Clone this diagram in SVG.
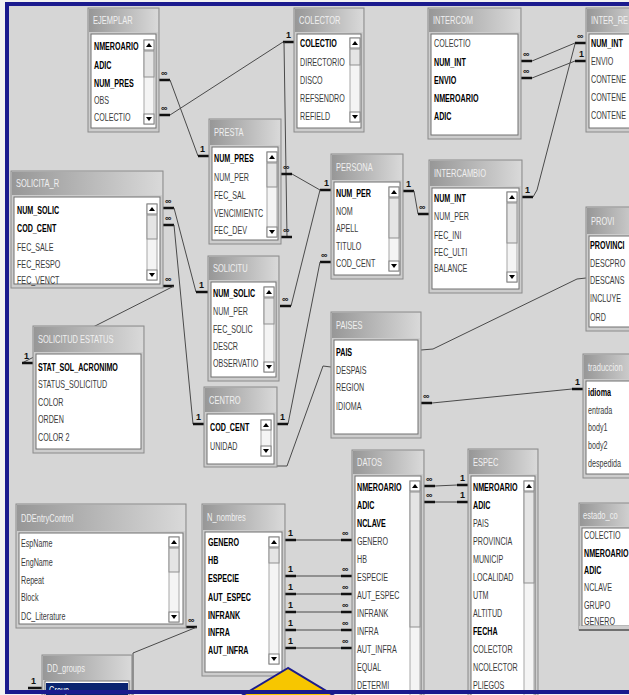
<svg xmlns="http://www.w3.org/2000/svg" width="629" height="695" viewBox="0 0 629 695">
<defs>
<linearGradient id="tg" x1="0" y1="0" x2="1" y2="0">
<stop offset="0" stop-color="#979797"/>
<stop offset="1" stop-color="#d9d9d9"/>
</linearGradient>
<style>
.frame{fill:#cdcdcd;stroke:#8a8a8a;stroke-width:1}
.tbar{fill:url(#tg)}
.body{fill:#fff;stroke:#707070;stroke-width:1}
.ttl{font-family:"Liberation Sans",Arial,sans-serif;font-size:10px;fill:#f0f0f0}
.f{font-family:"Liberation Sans",Arial,sans-serif;font-size:11px;fill:#3a3a3a}
.k{font-weight:bold;fill:#000}
.c{fill:none;stroke:#4a4a4a;stroke-width:1}
.s{stroke:#111;stroke-width:2.5}
.lb{font-family:"Liberation Sans",Arial,sans-serif;font-size:9px;font-weight:bold;fill:#111}
.trk{fill:#f4f4f4;stroke:#a8a8a8;stroke-width:1}
.btn{fill:#fff;stroke:#808080;stroke-width:1}
.thb{fill:#e4e4e4;stroke:#909090;stroke-width:1}
.ar{fill:#000}
</style>
</defs>
<rect x="0" y="0" width="629" height="695" fill="#f2f2f2"/>
<rect x="7" y="4" width="630" height="688" fill="#d6d6d6"/>

<g id="connectors">
<!-- EJEMPLAR.NUM_PRES -> PRESTA -->
<line class="s" x1="159" y1="80" x2="170" y2="80"/><line class="c" x1="170" y1="80" x2="198" y2="156"/><line class="s" x1="198" y1="156" x2="209" y2="156"/>
<text class="lb" x="161" y="76">∞</text><text class="lb" x="200" y="152">1</text>
<!-- EJEMPLAR.COLECTIO -> COLECTOR -->
<line class="s" x1="159" y1="115" x2="170" y2="115"/><line class="c" x1="170" y1="115" x2="283" y2="42"/><line class="s" x1="283" y1="42" x2="294" y2="42"/>
<text class="lb" x="161" y="111">∞</text><text class="lb" x="286" y="38">1</text>
<!-- COLECTOR -> PRESTA (vertical) -->
<line class="c" x1="284" y1="42" x2="287" y2="237"/><line class="s" x1="281" y1="237" x2="292" y2="237"/>
<text class="lb" x="283" y="233">∞</text>
<!-- PRESTA.NUM_PER -> PERSONA -->
<line class="s" x1="281" y1="174" x2="292" y2="174"/><line class="c" x1="292" y1="174" x2="320" y2="190"/><line class="s" x1="320" y1="190" x2="331" y2="190"/>
<text class="lb" x="283" y="170">∞</text><text class="lb" x="324" y="186">1</text>
<!-- PERSONA -> SOLICITUD -->
<line class="c" x1="320" y1="190" x2="291" y2="306"/><line class="s" x1="280" y1="306" x2="291" y2="306"/>
<text class="lb" x="282" y="302">∞</text>
<!-- PERSONA.COD_CENT -> CENTRO -->
<line class="s" x1="320" y1="262" x2="331" y2="262"/><line class="c" x1="320" y1="262" x2="288" y2="424"/><line class="s" x1="277" y1="424" x2="288" y2="424"/>
<text class="lb" x="321" y="258">∞</text><text class="lb" x="280" y="420">1</text>
<!-- PAISES.DESPAIS -> CENTRO -->
<polyline class="c" points="331,367 323,366 287,466 277,466"/>
<!-- SOLICITA_R -> SOLICITUD -->
<line class="s" x1="163" y1="208" x2="174" y2="208"/><line class="c" x1="174" y1="208" x2="196" y2="292"/><line class="s" x1="196" y1="292" x2="208" y2="292"/>
<text class="lb" x="165" y="204">∞</text><text class="lb" x="199" y="288">1</text>
<!-- SOLICITA_R.COD_CENT -> CENTRO -->
<line class="s" x1="163" y1="225" x2="174" y2="225"/><line class="c" x1="174" y1="225" x2="193" y2="424"/><line class="s" x1="193" y1="424" x2="204" y2="424"/>
<text class="lb" x="165" y="221">∞</text><text class="lb" x="196" y="420">1</text>
<!-- SOLICITA_R -> SOLICITUD ESTATUS -->
<line class="s" x1="163" y1="286" x2="174" y2="286"/><line class="c" x1="174" y1="286" x2="22" y2="363"/><line class="s" x1="22" y1="363" x2="33" y2="363"/>
<text class="lb" x="165" y="282">∞</text><text class="lb" x="24" y="359">1</text>
<!-- PERSONA -> INTERCAMBIO -->
<line class="s" x1="403" y1="191" x2="414" y2="191"/><line class="c" x1="414" y1="191" x2="418" y2="214"/><line class="s" x1="418" y1="214" x2="429" y2="214"/>
<text class="lb" x="406" y="187">1</text><text class="lb" x="419" y="210">∞</text>
<!-- INTERCOM -> INTER_RE -->
<line class="s" x1="521" y1="61" x2="532" y2="61"/><line class="c" x1="532" y1="61" x2="575" y2="43"/><line class="s" x1="575" y1="43" x2="586" y2="43"/>
<line class="s" x1="521" y1="78" x2="532" y2="78"/><line class="c" x1="532" y1="78" x2="575" y2="61"/><line class="s" x1="575" y1="61" x2="586" y2="61"/>
<text class="lb" x="523" y="57">∞</text><text class="lb" x="523" y="74">∞</text><text class="lb" x="577" y="39">∞</text><text class="lb" x="579" y="57">1</text>
<!-- INTERCAMBIO.NUM_INT -> INTER_RE -->
<line class="s" x1="522" y1="197" x2="533" y2="197"/><polyline class="c" points="533,197 537,190 575,44"/>
<text class="lb" x="525" y="193">1</text>
<!-- PAISES -> PROVI -->
<polyline class="c" points="421,350 433,349 577,279 586,278"/>
<!-- PAISES.IDIOMA -> traduccion -->
<line class="s" x1="421" y1="403" x2="432" y2="403"/><line class="c" x1="432" y1="403" x2="572" y2="389"/><line class="s" x1="572" y1="389" x2="583" y2="389"/>
<text class="lb" x="423" y="399">∞</text><text class="lb" x="575" y="385">1</text>
<!-- DATOS -> ESPEC -->
<line class="s" x1="424" y1="486" x2="435" y2="486"/><line class="c" x1="435" y1="486" x2="457" y2="485"/><line class="s" x1="457" y1="485" x2="468" y2="485"/>
<text class="lb" x="426" y="482">∞</text><text class="lb" x="460" y="481">1</text>
<line class="s" x1="424" y1="502" x2="435" y2="502"/><line class="c" x1="435" y1="502" x2="457" y2="502"/><line class="s" x1="457" y1="502" x2="468" y2="502"/>
<text class="lb" x="426" y="498">∞</text><text class="lb" x="460" y="498">1</text>
<!-- N_nombres -> DATOS -->
<line class="s" x1="285" y1="540" x2="296" y2="540"/><line class="c" x1="296" y1="540" x2="341" y2="540"/><line class="s" x1="341" y1="540" x2="352" y2="540"/>
<text class="lb" x="288" y="536">1</text><text class="lb" x="342" y="536">∞</text>
<line class="s" x1="285" y1="576" x2="296" y2="576"/><line class="c" x1="296" y1="576" x2="341" y2="576"/><line class="s" x1="341" y1="576" x2="352" y2="576"/>
<text class="lb" x="288" y="572">1</text><text class="lb" x="342" y="572">∞</text>
<line class="s" x1="285" y1="594" x2="296" y2="594"/><line class="c" x1="296" y1="594" x2="341" y2="594"/><line class="s" x1="341" y1="594" x2="352" y2="594"/>
<text class="lb" x="288" y="590">1</text><text class="lb" x="342" y="590">∞</text>
<line class="s" x1="285" y1="612" x2="296" y2="612"/><line class="c" x1="296" y1="612" x2="341" y2="612"/><line class="s" x1="341" y1="612" x2="352" y2="612"/>
<text class="lb" x="288" y="608">1</text><text class="lb" x="342" y="608">∞</text>
<line class="s" x1="285" y1="630" x2="296" y2="630"/><line class="c" x1="296" y1="630" x2="341" y2="630"/><line class="s" x1="341" y1="630" x2="352" y2="630"/>
<text class="lb" x="288" y="626">1</text><text class="lb" x="342" y="626">∞</text>
<line class="s" x1="285" y1="648" x2="296" y2="648"/><line class="c" x1="296" y1="648" x2="341" y2="648"/><line class="s" x1="341" y1="648" x2="352" y2="648"/>
<text class="lb" x="288" y="644">1</text><text class="lb" x="342" y="644">∞</text>
<!-- DDEntryControl -> DD_groups -->
<line class="s" x1="186" y1="627" x2="197" y2="627"/><polyline class="c" points="197,627 133,653 133,696"/>
<line class="s" x1="28" y1="688" x2="42" y2="688"/>
<text class="lb" x="188" y="623">∞</text><text class="lb" x="31" y="684">1</text>
</g>

<g id="EJEMPLAR">
<rect class="frame" x="88" y="8" width="71" height="124"/><rect class="tbar" x="89" y="9" width="69" height="23"/>
<text class="ttl" transform="translate(93,24) scale(0.75,1)">EJEMPLAR</text>
<rect class="body" x="91" y="34" width="65" height="94"/>
<g class="f" transform="translate(94,0) scale(0.65,1)"><text class="k" y="50">NMEROARIO</text><text class="k" y="69">ADIC</text><text class="k" y="87">NUM_PRES</text><text y="104">OBS</text><text y="121">COLECTIO</text></g>
<rect class="trk" x="144" y="40" width="10" height="84"/><rect class="btn" x="144" y="40" width="10" height="10"/><polygon class="ar" points="146,47 152,47 149,43"/><rect class="thb" x="144" y="51" width="10" height="26"/><rect class="btn" x="144" y="114" width="10" height="10"/><polygon class="ar" points="146,117 152,117 149,121"/>
</g>

<g id="COLECTOR">
<rect class="frame" x="294" y="8" width="70" height="124"/><rect class="tbar" x="295" y="9" width="68" height="23"/>
<text class="ttl" transform="translate(299,24) scale(0.75,1)">COLECTOR</text>
<rect class="body" x="297" y="34" width="64" height="94"/>
<g class="f" transform="translate(300,0) scale(0.65,1)"><text class="k" y="47">COLECTIO</text><text y="66">DIRECTORIO</text><text y="84">DISCO</text><text y="102">REFSENDRO</text><text y="120">REFIELD</text></g>
<rect class="trk" x="350" y="38" width="10" height="84"/><rect class="btn" x="350" y="38" width="10" height="10"/><polygon class="ar" points="352,45 358,45 355,41"/><rect class="thb" x="350" y="49" width="10" height="16"/><rect class="btn" x="350" y="112" width="10" height="10"/><polygon class="ar" points="352,115 358,115 355,119"/>
</g>

<g id="INTERCOM">
<rect class="frame" x="428" y="8" width="93" height="131"/><rect class="tbar" x="429" y="9" width="91" height="23"/>
<text class="ttl" transform="translate(433,24) scale(0.75,1)">INTERCOM</text>
<rect class="body" x="431" y="34" width="87" height="101"/>
<g class="f" transform="translate(434,0) scale(0.65,1)"><text y="47">COLECTIO</text><text class="k" y="66">NUM_INT</text><text class="k" y="84">ENVIO</text><text class="k" y="102">NMEROARIO</text><text class="k" y="120">ADIC</text></g>
</g>

<g id="INTER_RE">
<rect class="frame" x="586" y="8" width="60" height="124"/><rect class="tbar" x="587" y="9" width="58" height="23"/>
<text class="ttl" transform="translate(591,24) scale(0.75,1)">INTER_RE</text>
<rect class="body" x="589" y="34" width="60" height="94"/>
<g class="f" transform="translate(591,0) scale(0.65,1)"><text class="k" y="47">NUM_INT</text><text y="65">ENVIO</text><text y="83">CONTENE</text><text y="101">CONTENE</text><text y="119">CONTENE</text></g>
</g>

<g id="PRESTA">
<rect class="frame" x="209" y="119" width="72" height="125"/><rect class="tbar" x="210" y="120" width="70" height="25"/>
<text class="ttl" transform="translate(214,136) scale(0.75,1)">PRESTA</text>
<rect class="body" x="212" y="147" width="66" height="93"/>
<g class="f" transform="translate(214,0) scale(0.65,1)"><text class="k" y="162">NUM_PRES</text><text y="181">NUM_PER</text><text y="199">FEC_SAL</text><text y="217">VENCIMIENTC</text><text y="234">FEC_DEV</text></g>
<rect class="trk" x="267" y="152" width="10" height="85"/><rect class="btn" x="267" y="152" width="10" height="10"/><polygon class="ar" points="269,159 275,159 272,155"/><rect class="thb" x="267" y="163" width="10" height="24"/><rect class="btn" x="267" y="227" width="10" height="10"/><polygon class="ar" points="269,230 275,230 272,234"/>
</g>

<g id="PERSONA">
<rect class="frame" x="331" y="154" width="72" height="125"/><rect class="tbar" x="332" y="155" width="70" height="25"/>
<text class="ttl" transform="translate(336,171) scale(0.75,1)">PERSONA</text>
<rect class="body" x="334" y="182" width="66" height="93"/>
<g class="f" transform="translate(336,0) scale(0.65,1)"><text class="k" y="197">NUM_PER</text><text y="215">NOM</text><text y="232">APELL</text><text y="250">TITULO</text><text y="267">COD_CENT</text></g>
<rect class="trk" x="389" y="187" width="10" height="84"/><rect class="btn" x="389" y="187" width="10" height="10"/><polygon class="ar" points="391,194 397,194 394,190"/><rect class="thb" x="389" y="198" width="10" height="40"/><rect class="btn" x="389" y="261" width="10" height="10"/><polygon class="ar" points="391,264 397,264 394,268"/>
</g>

<g id="INTERCAMBIO">
<rect class="frame" x="429" y="160" width="93" height="133"/><rect class="tbar" x="430" y="161" width="91" height="25"/>
<text class="ttl" transform="translate(434,177) scale(0.75,1)">INTERCAMBIO</text>
<rect class="body" x="432" y="188" width="87" height="101"/>
<g class="f" transform="translate(434,0) scale(0.65,1)"><text class="k" y="202">NUM_INT</text><text y="220">NUM_PER</text><text y="239">FEC_INI</text><text y="256">FEC_ULTI</text><text y="272">BALANCE</text></g>
<rect class="trk" x="507" y="192" width="10" height="90"/><rect class="btn" x="507" y="192" width="10" height="10"/><polygon class="ar" points="509,199 515,199 512,195"/><rect class="thb" x="507" y="203" width="10" height="40"/><rect class="btn" x="507" y="272" width="10" height="10"/><polygon class="ar" points="509,275 515,275 512,279"/>
</g>

<g id="SOLICITA_R">
<rect class="frame" x="11" y="171" width="152" height="117"/><rect class="tbar" x="12" y="172" width="150" height="23"/>
<text class="ttl" transform="translate(16,187) scale(0.75,1)">SOLICITA_R</text>
<rect class="body" x="14" y="197" width="146" height="87"/>
<g class="f" transform="translate(17,0) scale(0.65,1)"><text class="k" y="214">NUM_SOLIC</text><text class="k" y="232">COD_CENT</text><text y="251">FEC_SALE</text><text y="268">FEC_RESPO</text><text y="284">FEC_VENCT</text></g>
<rect class="trk" x="147" y="204" width="10" height="76"/><rect class="btn" x="147" y="204" width="10" height="10"/><polygon class="ar" points="149,211 155,211 152,207"/><rect class="thb" x="147" y="215" width="10" height="24"/><rect class="btn" x="147" y="270" width="10" height="10"/><polygon class="ar" points="149,273 155,273 152,277"/>
</g>

<g id="SOLICITUD">
<rect class="frame" x="208" y="256" width="71" height="125"/><rect class="tbar" x="209" y="257" width="69" height="23"/>
<text class="ttl" transform="translate(213,272) scale(0.75,1)">SOLICITU</text>
<rect class="body" x="211" y="282" width="65" height="95"/>
<g class="f" transform="translate(213,0) scale(0.65,1)"><text class="k" y="297">NUM_SOLIC</text><text y="315">NUM_PER</text><text y="333">FEC_SOLIC</text><text y="350">DESCR</text><text y="367">OBSERVATIO</text></g>
<rect class="trk" x="264" y="287" width="10" height="85"/><rect class="btn" x="264" y="287" width="10" height="10"/><polygon class="ar" points="266,294 272,294 269,290"/><rect class="thb" x="264" y="298" width="10" height="26"/><rect class="btn" x="264" y="362" width="10" height="10"/><polygon class="ar" points="266,365 272,365 269,369"/>
</g>

<g id="SOLICITUD_ESTATUS">
<rect class="frame" x="33" y="326" width="111" height="127"/><rect class="tbar" x="34" y="327" width="109" height="25"/>
<text class="ttl" transform="translate(38,343) scale(0.75,1)">SOLICITUD ESTATUS</text>
<rect class="body" x="36" y="354" width="105" height="95"/>
<g class="f" transform="translate(38,0) scale(0.65,1)"><text class="k" y="371">STAT_SOL_ACRONIMO</text><text y="388">STATUS_SOLICITUD</text><text y="406">COLOR</text><text y="423">ORDEN</text><text y="441">COLOR 2</text></g>
</g>

<g id="CENTRO">
<rect class="frame" x="204" y="387" width="73" height="80"/><rect class="tbar" x="205" y="388" width="71" height="24"/>
<text class="ttl" transform="translate(209,404) scale(0.75,1)">CENTRO</text>
<rect class="body" x="207" y="414" width="67" height="50"/>
<g class="f" transform="translate(210,0) scale(0.65,1)"><text class="k" y="431">COD_CENT</text><text y="450">UNIDAD</text></g>
<rect class="trk" x="261" y="420" width="10" height="36"/><rect class="btn" x="261" y="420" width="10" height="10"/><polygon class="ar" points="263,427 269,427 266,423"/><rect class="btn" x="261" y="446" width="10" height="10"/><polygon class="ar" points="263,449 269,449 266,453"/>
</g>

<g id="PAISES">
<rect class="frame" x="331" y="312" width="90" height="126"/><rect class="tbar" x="332" y="313" width="88" height="25"/>
<text class="ttl" transform="translate(336,329) scale(0.75,1)">PAISES</text>
<rect class="body" x="334" y="340" width="84" height="94"/>
<g class="f" transform="translate(336,0) scale(0.65,1)"><text class="k" y="356">PAIS</text><text y="374">DESPAIS</text><text y="391">REGION</text><text y="410">IDIOMA</text></g>
</g>

<g id="PROVI">
<rect class="frame" x="586" y="207" width="60" height="124"/><rect class="tbar" x="587" y="208" width="58" height="26"/>
<text class="ttl" transform="translate(591,225) scale(0.75,1)">PROVI</text>
<rect class="body" x="589" y="236" width="60" height="91"/>
<g class="f" transform="translate(590,0) scale(0.65,1)"><text class="k" y="249">PROVINCI</text><text y="267">DESCPRO</text><text y="284">DESCANS</text><text y="302">INCLUYE</text><text y="321">ORD</text></g>
</g>

<g id="traduccion">
<rect class="frame" x="583" y="354" width="60" height="124"/><rect class="tbar" x="584" y="355" width="58" height="24"/>
<text class="ttl" transform="translate(588,371) scale(0.75,1)">traduccion</text>
<rect class="body" x="586" y="381" width="60" height="93"/>
<g class="f" transform="translate(588,0) scale(0.65,1)"><text class="k" y="396">idioma</text><text y="414">entrada</text><text y="431">body1</text><text y="449">body2</text><text y="467">despedida</text></g>
</g>

<g id="DATOS">
<rect class="frame" x="352" y="450" width="72" height="250"/><rect class="tbar" x="353" y="451" width="70" height="23"/>
<text class="ttl" transform="translate(357,466) scale(0.75,1)">DATOS</text>
<rect class="body" x="355" y="476" width="66" height="230"/>
<g class="f" transform="translate(357,0) scale(0.65,1)"><text class="k" y="491">NMEROARIO</text><text class="k" y="509">ADIC</text><text class="k" y="527">NCLAVE</text><text y="545">GENERO</text><text y="563">HB</text><text y="581">ESPECIE</text><text y="599">AUT_ESPEC</text><text y="617">INFRANK</text><text y="635">INFRA</text><text y="653">AUT_INFRA</text><text y="671">EQUAL</text><text y="689">DETERMI</text></g>
<rect class="trk" x="410" y="481" width="10" height="220"/><rect class="btn" x="410" y="481" width="10" height="10"/><polygon class="ar" points="412,488 418,488 415,484"/><rect class="thb" x="410" y="492" width="10" height="135"/>
</g>

<g id="ESPEC">
<rect class="frame" x="468" y="449" width="70" height="250"/><rect class="tbar" x="469" y="450" width="68" height="24"/>
<text class="ttl" transform="translate(473,466) scale(0.75,1)">ESPEC</text>
<rect class="body" x="471" y="476" width="64" height="230"/>
<g class="f" transform="translate(473,0) scale(0.65,1)"><text class="k" y="491">NMEROARIO</text><text class="k" y="509">ADIC</text><text y="527">PAIS</text><text y="545">PROVINCIA</text><text y="563">MUNICIP</text><text y="581">LOCALIDAD</text><text y="599">UTM</text><text y="617">ALTITUD</text><text class="k" y="635">FECHA</text><text y="653">COLECTOR</text><text y="671">NCOLECTOR</text><text y="689">PLIEGOS</text></g>
<rect class="trk" x="524" y="481" width="10" height="220"/><rect class="btn" x="524" y="481" width="10" height="10"/><polygon class="ar" points="526,488 532,488 529,484"/><rect class="thb" x="524" y="492" width="10" height="91"/>
</g>

<g id="estado">
<rect class="frame" x="579" y="503" width="60" height="127"/><rect class="tbar" x="580" y="504" width="58" height="22"/>
<text class="ttl" transform="translate(583,519) scale(0.75,1)">estado_co</text>
<rect class="body" x="582" y="528" width="60" height="98"/>
<g class="f" transform="translate(584,0) scale(0.65,1)"><text y="539">COLECTIO</text><text class="k" y="557">NMEROARIO</text><text class="k" y="574">ADIC</text><text y="591">NCLAVE</text><text y="609">GRUPO</text><text y="625">GENERO</text></g>
<rect x="579" y="626" width="60" height="4" fill="#cdcdcd"/>
<line x1="579" y1="630" x2="629" y2="630" stroke="#707070" stroke-width="2"/>
</g>

<g id="DDEntryControl">
<rect class="frame" x="16" y="504" width="170" height="124"/><rect class="tbar" x="17" y="505" width="168" height="26"/>
<text class="ttl" transform="translate(21,522) scale(0.75,1)">DDEntryControl</text>
<rect class="body" x="19" y="533" width="164" height="91"/>
<g class="f" transform="translate(21,0) scale(0.65,1)"><text y="547">EspName</text><text y="566">EngName</text><text y="584">Repeat</text><text y="601">Block</text><text y="620">DC_Literature</text></g>
<rect class="trk" x="169" y="537" width="10" height="85"/><rect class="btn" x="169" y="537" width="10" height="10"/><polygon class="ar" points="171,544 177,544 174,540"/><rect class="thb" x="169" y="548" width="10" height="24"/><rect class="btn" x="169" y="612" width="10" height="10"/><polygon class="ar" points="171,615 177,615 174,619"/>
</g>

<g id="N_nombres">
<rect class="frame" x="202" y="504" width="83" height="172"/><rect class="tbar" x="203" y="505" width="81" height="25"/>
<text class="ttl" transform="translate(207,521) scale(0.75,1)">N_nombres</text>
<rect class="body" x="205" y="532" width="77" height="140"/>
<g class="f" transform="translate(208,0) scale(0.65,1)"><text class="k" y="546">GENERO</text><text class="k" y="564">HB</text><text class="k" y="582">ESPECIE</text><text class="k" y="601">AUT_ESPEC</text><text class="k" y="619">INFRANK</text><text class="k" y="636">INFRA</text><text class="k" y="654">AUT_INFRA</text></g>
<rect class="trk" x="269" y="537" width="10" height="127"/><rect class="btn" x="269" y="537" width="10" height="10"/><polygon class="ar" points="271,544 277,544 274,540"/><rect class="thb" x="269" y="548" width="10" height="15"/><rect class="btn" x="269" y="654" width="10" height="10"/><polygon class="ar" points="271,657 277,657 274,661"/>
</g>

<g id="DD_groups">
<rect class="frame" x="42" y="655" width="90" height="45"/><rect class="tbar" x="43" y="656" width="88" height="24"/>
<text class="ttl" transform="translate(47,672) scale(0.75,1)">DD_groups</text>
<rect class="body" x="45" y="681" width="84" height="20"/>
<rect x="46" y="683" width="82" height="14" fill="#0a2470"/>
<text class="f" transform="translate(49,694) scale(0.65,1)" style="fill:#fff">Group</text>
</g>

<polygon points="288,668 238,698 338,698" fill="#f7c600" stroke="#1c1c8c" stroke-width="2"/>
<rect x="7" y="4" width="640" height="688" fill="none" stroke="#1a1a8e" stroke-width="4"/>
</svg>
